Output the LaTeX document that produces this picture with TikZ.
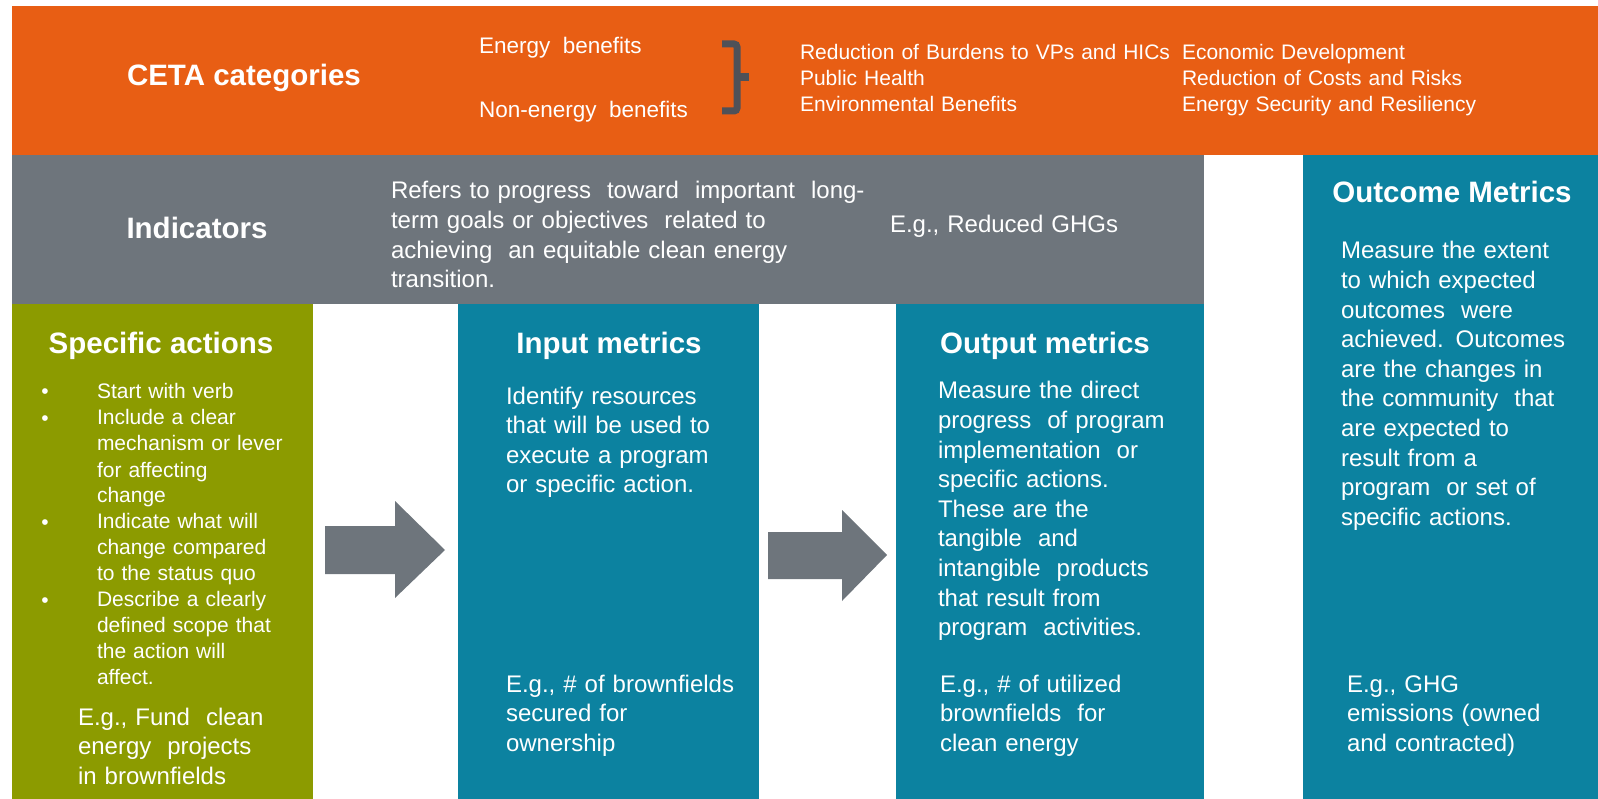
\documentclass[tikz,border=0pt]{standalone}
\usepackage{fontspec}
\setmainfont{Liberation Sans}
\definecolor{cetaorange}{HTML}{E85E14}
\definecolor{indgray}{HTML}{6E757C}
\definecolor{metteal}{HTML}{0C82A0}
\definecolor{actgreen}{HTML}{8C9B00}
\definecolor{bracegray}{HTML}{4F5158}
\begin{document}
\begin{tikzpicture}[x=1pt,y=-1pt,
  every node/.style={inner sep=0pt, outer sep=0pt, text=white},
  panel/.style={draw=none, anchor=north west, minimum width=#1},
  head/.style={font=\fontsize{29.5}{34}\bfseries\selectfont, anchor=base},
  body/.style={font=\fontsize{24}{29.6}\selectfont, anchor=base west, align=left, text width=#1},
  body/.default=300pt,
  small/.style={font=\fontsize{21}{25.7}\selectfont, anchor=base west, align=left, text width=#1},
  small/.default=400pt,
  bullets/.style={font=\fontsize{21}{26}\selectfont, anchor=base west, align=left, text width=250pt},
  bulletmark/.style={font=\fontsize{21}{26}\selectfont, anchor=base},
  blockarrow/.style={fill=indgray, draw=none}
]
\useasboundingbox (0,0) rectangle (1598,799);
% panels
\node[panel=1586pt, minimum height=149pt, fill=cetaorange] (ceta) at (12,6) {};
\node[panel=1192pt, minimum height=149pt, fill=indgray] (ind) at (12,155) {};
\node[panel=301pt, minimum height=495pt, fill=actgreen] (act) at (12,304) {};
\node[panel=301pt, minimum height=495pt, fill=metteal] (inp) at (458,304) {};
\node[panel=308pt, minimum height=495pt, fill=metteal] (outp) at (896,304) {};
\node[panel=295pt, minimum height=644pt, fill=metteal] (outc) at (1303,155) {};

% CETA band
\node[head, anchor=base west] (cetat) at (127,86) {CETA categories};
\node[font=\fontsize{22.5}{26}\selectfont, anchor=base west] (eb) at (479,54) {Energy\ \ benefits};
\node[font=\fontsize{22.5}{26}\selectfont, anchor=base west] (neb) at (479,118) {Non-energy\ \ benefits};
\draw[bracegray, line width=7pt, rounded corners=3pt] (722,44) -- (737,44) -- (737,111) -- (722,111);
\draw[bracegray, line width=8pt] (737,77) -- (749,77);
\node[small] (cat1) at (800,60) {Reduction of Burdens to VPs and HICs\\Public Health\\Environmental Benefits};
\node[small] (cat2) at (1182,60) {Economic Development\\Reduction of Costs and Risks\\Energy Security and Resiliency};

% Indicators band
\node[head] (indt) at (197,239) {Indicators};
\node[body=600pt] (indd) at (391,199) {Refers to progress\ \ toward\ \ important\ \ long-\\term goals or objectives\ \ related to\\achieving\ \ an equitable clean energy\\transition.};
\node[body] (inde) at (890,233) {E.g., Reduced GHGs};

% Specific actions
\node[head] (actt) at (161,354) {Specific actions};
\node[bullets] (actb) at (97,399) {Start with verb\\Include a clear\\mechanism or lever\\for affecting\\change\\Indicate what will\\change compared\\to the status quo\\Describe a clearly\\defined scope that\\the action will\\affect.};
\node[bulletmark] (b1) at (45,399) {\textbullet};
\node[bulletmark] (b2) at (45,425) {\textbullet};
\node[bulletmark] (b3) at (45,529) {\textbullet};
\node[bulletmark] (b4) at (45,607) {\textbullet};
\node[body] (acte) at (78,725) {E.g., Fund\ \ clean\\energy\ \ projects\\in brownfields};

% Input metrics
\node[head] (inpt) at (609,354) {Input metrics};
\node[body] (inpd) at (506,404) {Identify resources\\that will be used to\\execute a program\\or specific action.};
\node[body] (inpe) at (506,692) {E.g., \# of brownfields\\secured for\\ownership};

% Output metrics
\node[head] (outpt) at (1045,354) {Output metrics};
\node[body] (outpd) at (938,399) {Measure the direct\\progress\ \ of program\\implementation\ \ or\\specific actions.\\These are the\\tangible\ \ and\\intangible\ \ products\\that result from\\program\ \ activities.};
\node[body] (outpe) at (940,692) {E.g., \# of utilized\\brownfields\ \ for\\clean energy};

% Outcome metrics
\node[head] (outct) at (1452,203) {Outcome Metrics};
\node[body=250pt] (outcd) at (1341,259) {Measure the extent\\to which expected\\outcomes\ \ were\\achieved. Outcomes\\are the changes in\\the community\ \ that\\are expected to\\result from a\\program\ \ or set of\\specific actions.};
\node[body=250pt] (outce) at (1347,692) {E.g., GHG\\emissions (owned\\and contracted)};

% block arrows
\fill[blockarrow] (325,526) -- (395,526) -- (395,501) -- (445,550) -- (395,598) -- (395,574) -- (325,574) -- cycle;
\fill[blockarrow] (768,532) -- (842,532) -- (842,510) -- (887,555) -- (842,601) -- (842,579) -- (768,579) -- cycle;
\end{tikzpicture}
\end{document}
